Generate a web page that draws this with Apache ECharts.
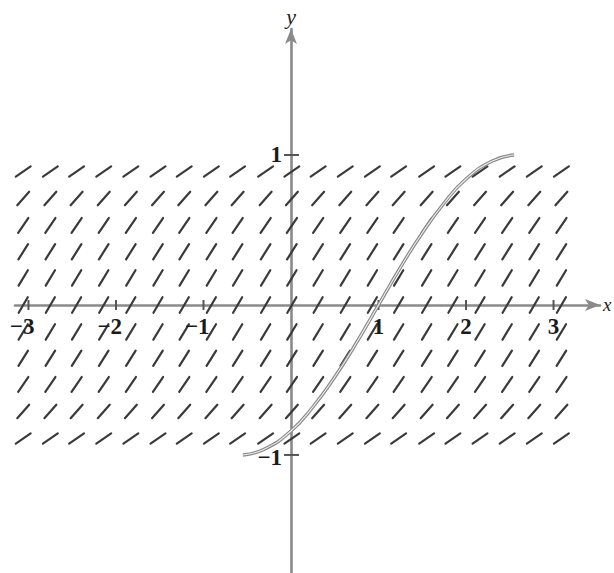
<!DOCTYPE html>
<html><head><meta charset="utf-8">
<script src="https://cdn.jsdelivr.net/npm/echarts@6/dist/echarts.min.js"></script>
<style>html,body{margin:0;padding:0;background:#fff}#c{width:614px;height:573px}</style>
</head><body><div id="c"></div>
<script>
// Slope-field sample columns (x) and rows (y), with the slope read for each row
const colX = [-3.06,-2.75,-2.45,-2.14,-1.83,-1.52,-1.22,-0.91,-0.61,-0.29,0.01,0.31,0.62,0.93,1.23,1.55,1.85,2.16,2.47,2.78,3.09];
const rowY = [-0.89,-0.71,-0.53,-0.355,-0.18,0,0.18,0.355,0.53,0.71,0.89];
const rowSlope = [0.40,0.66,0.86,0.93,0.97,1.0,0.97,0.93,0.86,0.66,0.40];
// Solution curve
const curveX = [-0.55,-0.3,0,0.25,0.5,0.75,1.0,1.25,1.5,1.75,2.0,2.3,2.55];
const curveY = [-1.0,-0.96,-0.84,-0.68,-0.48,-0.25,0,0.25,0.48,0.68,0.84,0.96,1.0];
// Tick labels
const xTicks = [-3,-2,-1,1,2,3];
const yTicks = [-1,1];

const fieldData = [];
rowY.forEach((y, i) => colX.forEach(x => fieldData.push([x, y, rowSlope[i]])));
const curveData = curveX.map((x, i) => [x, curveY[i]]);

const SEG = 18;
function lab(v){ return v < 0 ? '\u2212' + (-v) : String(v); }
function txt(v, align){
  return {text:lab(v), fontFamily:'Liberation Serif', fontWeight:'bold', fontSize:23, fill:'#1a1a1a', align:align};
}

const chart = echarts.init(document.getElementById('c'), null, {renderer:'svg'});
chart.setOption({
  backgroundColor:'#fff',
  animation:false,
  grid:{left:15, right:14, top:29, bottom:0, outerBoundsMode:'none', containLabel:false},
  xAxis:{
    type:'value', min:-3.154, max:3.531,
    splitLine:{show:false}, axisTick:{show:false}, axisLabel:{show:false},
    axisLine:{onZero:true, lineStyle:{color:'#8a8a8a', width:2.6}, symbol:['none','arrow'], symbolSize:[9,15]},
    name:'x', nameLocation:'end', nameGap:3,
    nameTextStyle:{fontFamily:'Liberation Serif', fontStyle:'italic', fontSize:19, color:'#222', align:'left', verticalAlign:'middle'}
  },
  yAxis:{
    type:'value', min:-1.787, max:1.84,
    splitLine:{show:false}, axisTick:{show:false}, axisLabel:{show:false},
    axisLine:{onZero:true, lineStyle:{color:'#8a8a8a', width:2.6}, symbol:['none','arrow'], symbolSize:[9,15]},
    name:'y', nameLocation:'end', nameGap:2,
    nameTextStyle:{fontFamily:'Liberation Serif', fontStyle:'italic', fontSize:22, color:'#222', align:'center', verticalAlign:'bottom'}
  },
  series:[
    {
      type:'custom', clip:false, z:2,
      data:fieldData,
      renderItem:function(params, api){
        const x = api.value(0), y = api.value(1), s = api.value(2);
        const p0 = api.coord([x, y]);
        const p1 = api.coord([x + 1, y + s]);
        let dx = p1[0]-p0[0], dy = p1[1]-p0[1];
        const L = Math.sqrt(dx*dx+dy*dy);
        dx = dx/L*SEG/2; dy = dy/L*SEG/2;
        return {type:'line', shape:{x1:p0[0]-dx, y1:p0[1]-dy, x2:p0[0]+dx, y2:p0[1]+dy},
          style:{stroke:'#3a3a3a', lineWidth:2.2, lineCap:'round'}};
      }
    },
    {
      type:'custom', clip:false, z:3,
      data:xTicks.map(v => [v, 0]),
      renderItem:function(params, api){
        const v = api.value(0);
        const p = api.coord([v, api.value(1)]);
        const s = txt(v, v < 0 ? 'right' : 'center');
        s.verticalAlign = 'top';
        return {type:'group', children:[
          {type:'line', shape:{x1:p[0], y1:p[1]-5, x2:p[0], y2:p[1]+5}, style:{stroke:'#555', lineWidth:2}},
          {type:'text', x: v < 0 ? p[0]+6 : p[0], y:p[1]+10, style:s}
        ]};
      }
    },
    {
      type:'custom', clip:false, z:3,
      data:yTicks.map(v => [0, v]),
      renderItem:function(params, api){
        const v = api.value(1);
        const p = api.coord([api.value(0), v]);
        const s = txt(v, 'right');
        s.verticalAlign = 'middle';
        return {type:'group', children:[
          {type:'line', shape:{x1:p[0]-7, y1:p[1], x2:p[0]+8, y2:p[1]}, style:{stroke:'#555', lineWidth:2}},
          {type:'text', x:p[0]-9, y: v < 0 ? p[1]+3 : p[1], style:s}
        ]};
      }
    },
    {
      type:'line', data:curveData, smooth:true, symbol:'none', z:4,
      lineStyle:{color:'#8a8a8a', width:3.4}
    },
    {
      type:'line', data:curveData, smooth:true, symbol:'none', z:5,
      lineStyle:{color:'#eeeeee', width:1.1}
    }
  ]
});
</script>
</body></html>
